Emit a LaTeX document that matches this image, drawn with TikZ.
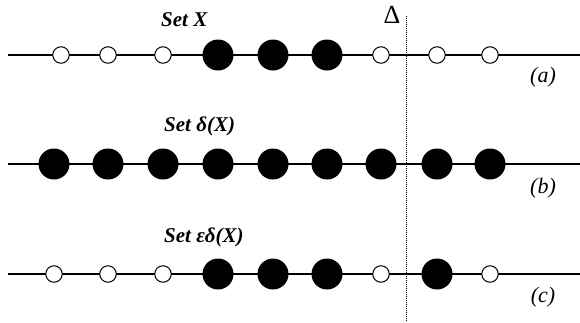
\documentclass[tikz,border=0pt]{standalone}
\usepackage{fontspec}
\setmainfont{Liberation Serif}
\begin{document}
\begin{tikzpicture}[x=1pt,y=-1pt,
  small/.style={circle,draw,fill=white,line width=1pt,minimum size=16.5pt,inner sep=0pt},
  big/.style={circle,fill=black,minimum size=31pt,inner sep=0pt},
  axis/.style={line width=1.2pt},
  settitle/.style={anchor=base west,inner sep=0pt,font=\fontsize{21}{21}\selectfont\bfseries\itshape},
  tag/.style={inner sep=0pt,font=\fontsize{22}{22}\selectfont\itshape},
  sep/.style={dash pattern=on 1pt off 1pt,line width=1pt}]
\useasboundingbox (0,0) rectangle (580,322);
% axes
\coordinate (aL) at (8,55);  \coordinate (aR) at (580,55);
\coordinate (bL) at (8,164); \coordinate (bR) at (580,164);
\coordinate (cL) at (8,274); \coordinate (cR) at (580,274);
\draw[axis] (aL) -- (aR);
\draw[axis] (bL) -- (bR);
\draw[axis] (cL) -- (cR);
% separator
\coordinate (dT) at (406,16); \coordinate (dB) at (406,322);
\draw[sep] (dT) -- (dB);
\node[font=\fontsize{26}{26}\selectfont,inner sep=0pt] (delta) at (392,15) {Δ};
% row a
\foreach \x/\s [count=\i] in {61/small,108/small,163/small,218/big,273/big,327/big,381/small,437/small,490/small}
  \node[\s] (a\i) at (\x,55) {};
% row b
\foreach \x [count=\i] in {54,108,163,218,273,327,381,437,490}
  \node[big] (b\i) at (\x,164) {};
% row c
\foreach \x/\s [count=\i] in {54/small,108/small,163/small,218/big,273/big,327/big,381/small,437/big,490/small}
  \node[\s] (c\i) at (\x,274) {};
% titles
\node[settitle] (ta) at (161,26) {Set X};
\node[settitle] (tb) at (164,131.5) {Set δ(X)};
\node[settitle] (tc) at (164,242.5) {Set εδ(X)};
% tags
\node[tag] (la) at (543,77) {(a)};
\node[tag] (lb) at (543,188) {(b)};
\node[tag] (lc) at (543,297) {(c)};
\end{tikzpicture}
\end{document}
